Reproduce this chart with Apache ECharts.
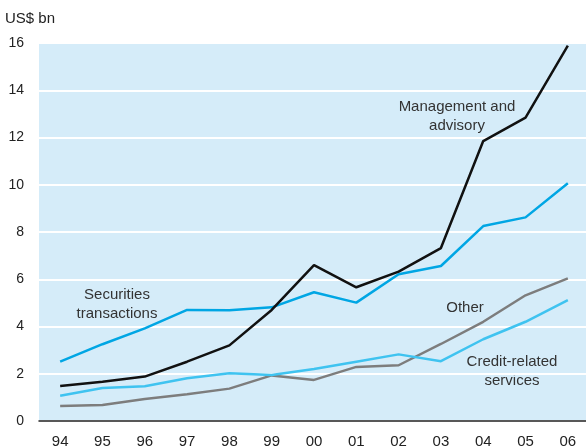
<!DOCTYPE html>
<html><head><meta charset="utf-8">
<script src="https://cdn.jsdelivr.net/npm/echarts@6/dist/echarts.min.js"></script>
<style>html,body{margin:0;padding:0;background:#fff}#c{width:586px;height:446px}</style>
</head><body><div id="c"></div>
<script>
const categories = ['94','95','96','97','98','99','00','01','02','03','04','05','06'];
const management = [1.48,1.66,1.88,2.51,3.20,4.70,6.60,5.66,6.32,7.32,11.85,12.84,15.89];
const securities = [2.51,3.25,3.92,4.70,4.69,4.81,5.45,5.01,6.21,6.56,8.25,8.62,10.06];
const credit = [1.07,1.40,1.47,1.81,2.02,1.95,2.20,2.51,2.82,2.53,3.46,4.20,5.12];
const other = [0.63,0.68,0.93,1.13,1.37,1.93,1.74,2.29,2.36,3.26,4.20,5.32,6.04];
const yTicks = [0,2,4,6,8,10,12,14,16];

const FONT = 'Liberation Sans';
const F15 = '15px "' + FONT + '"';
const chart = echarts.init(document.getElementById('c'));
const mk = (name, data, color) => ({
  name, type: 'line', data, symbol: 'none', smooth: false,
  lineStyle: { color, width: 2.5 }, itemStyle: { color }, z: 3
});
chart.setOption({
  animation: false,
  textStyle: { fontFamily: FONT },
  grid: { left: 39, top: 43, width: 550, height: 378, backgroundColor: '#d5ecf9', show: true, borderWidth: 0,
    containLabel: false, outerBoundsMode: 'none' },
  xAxis: {
    type: 'category', data: categories, boundaryGap: true,
    axisLine: { lineStyle: { color: '#222', width: 1.5 } },
    axisTick: { inside: true, length: 8, lineStyle: { color: '#222', width: 1.5 } },
    axisLabel: { color: '#222', fontSize: 15, margin: 13, fontFamily: FONT },
    splitLine: { show: false }
  },
  yAxis: {
    type: 'value', min: 0, max: 16, interval: 2,
    axisLine: { show: false }, axisTick: { show: false },
    axisLabel: { color: '#222', fontSize: 14, margin: 15, fontFamily: FONT,
      formatter: v => yTicks.includes(v) ? String(v) : '' },
    splitLine: { lineStyle: { color: '#ffffff', width: 2 } }
  },
  series: [
    mk('Other', other, '#7d7d7d'),
    mk('Credit-related services', credit, '#3fc3f0'),
    mk('Securities transactions', securities, '#00a6e4'),
    mk('Management and advisory', management, '#111111')
  ],
  graphic: [
    { type: 'text', left: 5, top: 11, style: { text: 'US$ bn', font: F15, fill: '#222' } },
    { type: 'group', children: [
      { type: 'text', x: 457, y: 97, style: { text: 'Management and\nadvisory', font: F15, fill: '#333', align: 'center', lineHeight: 19 } },
      { type: 'text', x: 117, y: 285, style: { text: 'Securities\ntransactions', font: F15, fill: '#333', align: 'center', lineHeight: 19 } },
      { type: 'text', x: 465, y: 300, style: { text: 'Other', font: F15, fill: '#333', align: 'center' } },
      { type: 'text', x: 512, y: 352, style: { text: 'Credit-related\nservices', font: F15, fill: '#333', align: 'center', lineHeight: 19 } }
    ]}
  ]
});
</script></body></html>
